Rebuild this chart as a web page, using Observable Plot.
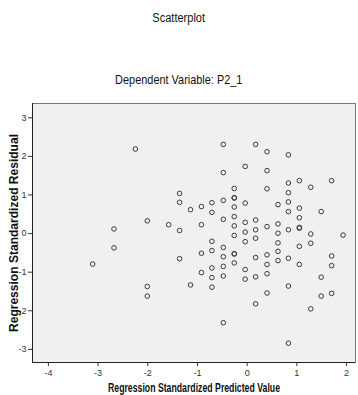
<!DOCTYPE html>
<html>
<head>
<meta charset="utf-8">
<script src="https://cdn.jsdelivr.net/npm/d3@7"></script>
<script src="https://cdn.jsdelivr.net/npm/@observablehq/plot@0.6"></script>
<style>
  body { margin: 0; background: #fff; }
  #wrap { position: relative; width: 358px; height: 395px; font-family: "Liberation Sans", Arial, sans-serif; }
  .t { position: absolute; left: 0; width: 358px; text-align: center; color: #111; white-space: nowrap; }
  .t span { display: inline-block; transform-origin: center; }
  #chart { position: absolute; top: 93px; left: 0; }
</style>
</head>
<body>
<div id="wrap">
  <div class="t" style="top:11px;font-size:12px"><span style="transform:scaleX(0.92)">Scatterplot</span></div>
  <div class="t" style="top:72px;font-size:13px"><span style="transform:scaleX(0.84)">Dependent Variable: P2_1</span></div>
  <div id="chart"></div>
</div>
<script>
// Regression standardized predicted values (x) and residuals (y), one entry per case
const predicted = [
  -3.11,
  -2.68, -2.68,
  -2.25,
  -2.01, -2.01, -2.01,
  -1.58,
  -1.36, -1.36, -1.36, -1.36,
  -1.14, -1.14,
  -0.92, -0.92, -0.92, -0.92,
  -0.71, -0.71, -0.71, -0.71, -0.71, -0.71, -0.71,
  -0.48, -0.48, -0.48, -0.48, -0.48, -0.48, -0.48, -0.48, -0.48,
  -0.26, -0.26, -0.26, -0.26, -0.26, -0.26, -0.26, -0.26, -0.26, -0.26,
  -0.04, -0.04, -0.04, -0.04, -0.04, -0.04, -0.04,
  0.17, 0.17, 0.17, 0.17, 0.17, 0.17, 0.17,
  0.40, 0.40, 0.40, 0.40, 0.40, 0.40, 0.40, 0.40,
  0.62, 0.62, 0.62, 0.62, 0.62, 0.62,
  0.83, 0.83, 0.83, 0.83, 0.83, 0.83, 0.83, 0.83, 0.83,
  1.05, 1.05, 1.05, 1.05, 1.05, 1.05, 1.05,
  1.28, 1.28, 1.28, 1.28,
  1.49, 1.49, 1.49,
  1.70, 1.70, 1.70, 1.70,
  1.93
];
const residual = [
  -0.79,
  0.12, -0.37,
  2.19,
  0.33, -1.37, -1.62,
  0.23,
  1.04, 0.81, 0.08, -0.65,
  0.62, -1.33,
  0.70, 0.23, -0.51, -1.01,
  0.80, 0.55, -0.20, -0.44, -0.89, -1.14, -1.39,
  2.31, 1.58, 0.86, 0.37, -0.36, -0.60, -0.85, -1.10, -2.31,
  1.17, 0.93, 0.92, 0.69, 0.44, 0.20, -0.05, -0.52, -0.53, -0.76,
  1.74, 0.79, 0.29, 0.04, -0.21, -0.93, -1.18,
  2.31, 0.35, 0.10, -0.12, -0.62, -1.12, -1.82,
  2.12, 1.63, 1.16, 0.18, -0.55, -0.80, -1.04, -1.54,
  0.75, 0.25, 0.01, -0.24, -0.46, -0.70,
  2.04, 1.31, 1.06, 0.82, 0.57, 0.10, -0.64, -1.36, -2.84,
  1.37, 0.66, 0.41, 0.16, 0.14, -0.33, -0.80,
  1.20, -0.01, -0.25, -1.95,
  0.57, -1.13, -1.62,
  1.37, -0.58, -0.83, -1.55,
  -0.04
];
const xTicks = [-4, -3, -2, -1, 0, 1, 2];
const yTicks = [-3, -2, -1, 0, 1, 2, 3];
const xLabel = "Regression Standardized Predicted Value";
const yLabel = "Regression Standardized Residual";

const cases = predicted.map((x, i) => ({x, y: residual[i]}));
const xDomain = [-4.32, 2.18];
const yDomain = [-3.34, 3.37];

const chart = Plot.plot({
  width: 358,
  height: 302,
  marginTop: 10,
  marginBottom: 33,
  marginLeft: 32,
  marginRight: 3,
  style: {fontFamily: "\"Liberation Sans\", Arial, sans-serif", fontSize: "9px", color: "#333", background: "transparent", overflow: "visible"},
  x: {domain: xDomain, ticks: xTicks, tickFormat: d => String(d), tickSize: 4, tickPadding: 3, label: null},
  y: {domain: yDomain, ticks: yTicks, tickFormat: d => String(d), tickSize: 4, tickPadding: 2, label: null},
  marks: [
    Plot.frame({fill: "#f0f0f0", stroke: "#777"}),
    Plot.ruleX([xDomain[0]], {stroke: "#222"}),
    Plot.ruleY([yDomain[0]], {stroke: "#222"}),
    Plot.dot(cases, {x: "x", y: "y", r: 2.3, stroke: "#3a3a3a", strokeWidth: 1, fill: "none"}),
    Plot.text([xLabel], {text: d => d, frameAnchor: "bottom", lineAnchor: "middle", textAnchor: "middle", dy: 26, fontSize: 12, fontWeight: "bold", fill: "#111", className: "xlabel"}),
    Plot.text([yLabel], {text: d => d, frameAnchor: "left", lineAnchor: "middle", textAnchor: "middle", dx: -18, rotate: -90, fontSize: 12, fontWeight: "bold", fill: "#111", className: "ylabel"})
  ]
});
// Condense the axis titles to their printed widths
const fit = (cls, len) => {
  const t = chart.querySelector(`g.${cls} text`);
  if (t) { t.setAttribute("textLength", len); t.setAttribute("lengthAdjust", "spacingAndGlyphs"); }
};
fit("xlabel", 172);
fit("ylabel", 198);
document.getElementById("chart").appendChild(chart);
</script>
</body>
</html>
